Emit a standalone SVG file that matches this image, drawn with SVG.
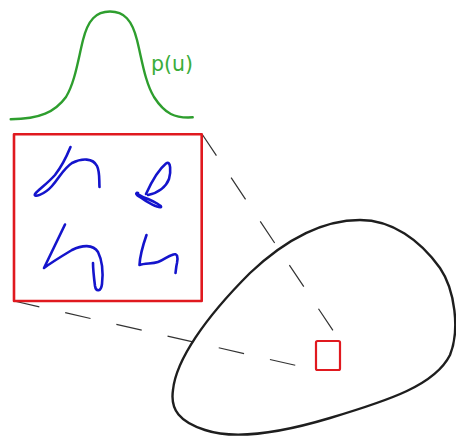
<svg xmlns="http://www.w3.org/2000/svg" width="456" height="438" viewBox="0 0 456 438">
<style>
.red{fill:none;stroke:#e0191f;stroke-linejoin:round}
.ink{fill:none;stroke:#1414cc;stroke-width:2.6;stroke-linecap:round;stroke-linejoin:round}
.dash{fill:none;stroke:#333;stroke-width:1.2;stroke-dasharray:26 26.5}
.green{fill:none;stroke:#2e9e2e;stroke-width:2.4;stroke-linecap:round;stroke-linejoin:round}
.lbl{font-family:"DejaVu Sans",sans-serif;font-size:20.5px;fill:#3aad3a}
</style>
<rect width="456" height="438" fill="#fff"/>
<g id="connectors">
<line class="dash" x1="202" y1="134" x2="340" y2="341"/>
<line class="dash" x1="14" y1="301" x2="316" y2="370"/>
</g>
<g id="distribution">
<path class="green" d="M10.7,119.3 C40,119 55,112 66,97 C75,82 78,60 83,40 C88,20 96,11.5 110,11.5 C124,11.5 132,20 137,40 C142,60 145,82 154,97 C165,114 175,118.5 192.7,117.3"/>
<text class="lbl" x="151" y="71">p(u)</text>
</g>
<g id="patch-zoom">
<rect class="red" x="14" y="134.3" width="187.7" height="166.7" stroke-width="2.6"/>
<path class="ink" d="M70.5,147 C66,158 62,166 55,175 C47,184 38,190 35,194 C33,198 44,195 52,186 C60,177 63,169 72,163 C82,158 93,158 97,166 C100,172 99,180 99.5,187"/>
<path class="ink" d="M146,194 C151,183 158,170 166,163.5 C171,160 171,172 169,179 C166,187 158,193 148,195 M138,193 C134,192 140,196 148,199 C155,202 162,206 161,207 C158,208 148,203 140,197 C136,195 135,193 138,193"/>
<path class="ink" d="M65,224.5 L44,268 C52,262 62,256 72,250 C82,245 93,244 98,252 C103,262 103,275 102,284 C101,292 96,292 95,286 C94,278 93,270 93,263"/>
<path class="ink" d="M146.5,235 C143,245 140,255 139.5,265 C145,263 152,264 158,262 C164,260 168,256 172,255 C178,252 178,258 177,263 C176,267 176,270 175.5,273"/>
</g>
<g id="domain">
<path d="M360,220 C392,220 420,240 440,268 C455,290 460,330 450,355 C435,385 390,400 330,418 C280,433 235,440 205,430 C180,422 170,410 173,390 C176,360 205,318 250,273 C285,240 322,220 360,220 Z" fill="none" stroke="#1e1e1e" stroke-width="2.4"/>
</g>
<g id="patch">
<rect class="red" x="316" y="341" width="24" height="29" rx="1.5" stroke-width="2.2"/>
</g>
</svg>
